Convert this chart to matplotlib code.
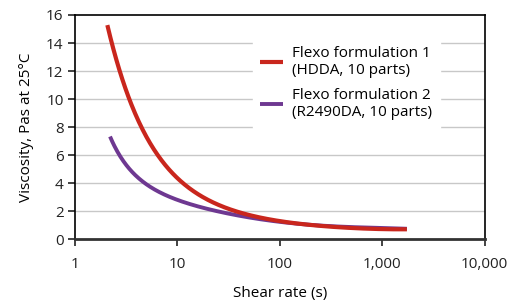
import numpy as np
import matplotlib
matplotlib.use("Agg")
import matplotlib.pyplot as plt

plt.rcParams["font.family"] = ["Open Sans", "DejaVu Sans"]

# Shear rate (s) and viscosity (Pas at 25 C)
shear_1 = [2.08, 2.33, 2.72, 3.31, 4.33, 5.42, 6.78, 8.5, 11.0, 16.6, 24.2, 35.2, 59.4,
           108, 228, 482, 1018, 1740]
visc_1  = [15.45, 14.0, 12.0, 10.0, 8.0, 6.9, 5.9, 5.0, 4.2, 3.2, 2.45, 1.97, 1.62,
           1.33, 0.98, 0.81, 0.74, 0.72]

shear_2 = [2.21, 2.76, 4.02, 5.42, 7.88, 11.4, 16.6, 24.2, 35.2, 51.1, 108, 228, 482,
           1018, 1740]
visc_2  = [7.4, 5.89, 4.46, 3.80, 3.10, 2.70, 2.33, 2.02, 1.76, 1.55, 1.22, 1.02, 0.88,
           0.81, 0.76]

label_1 = "Flexo formulation 1\n(HDDA, 10 parts)"
label_2 = "Flexo formulation 2\n(R2490DA, 10 parts)"

x_ticks = [1, 10, 100, 1000, 10000]
x_tick_labels = ["1", "10", "100", "1,000", "10,000"]
y_ticks = [0, 2, 4, 6, 8, 10, 12, 14, 16]

C_RED = "#c9261d"
C_PURPLE = "#6e3891"


def smooth(xs, ys, deg=5, n=400):
    """Least-squares smoothing of the read points in log-log space, for a clean line."""
    lx = np.log10(xs)
    ly = np.log10(ys)
    coef = np.polyfit(lx, ly, deg)
    g = np.linspace(lx[0], lx[-1], n)
    return 10 ** g, 10 ** np.polyval(coef, g)


fig = plt.figure(figsize=(5.19, 3.06), dpi=100)
ax = fig.add_axes([0.144, 0.2176, 0.79, 0.7334])

for y in y_ticks[1:-1]:
    ax.axhline(y, color="#c8c8c8", lw=1.0, zorder=1)

x1, y1 = smooth(shear_1, visc_1)
x2, y2 = smooth(shear_2, visc_2)
ax.plot(x2, y2, color=C_PURPLE, lw=2.8, solid_capstyle="butt", label=label_2, zorder=3)
ax.plot(x1, y1, color=C_RED, lw=3.0, solid_capstyle="butt", label=label_1, zorder=4)

ax.set_xscale("log")
ax.set_xlim(1, 10000)
ax.set_ylim(0, 16)
ax.set_xticks(x_ticks)
ax.set_xticklabels(x_tick_labels)
ax.xaxis.set_minor_locator(matplotlib.ticker.NullLocator())
ax.set_yticks(y_ticks)

ax.tick_params(axis="both", labelsize=11, colors="#222222", length=5, width=1.2)
ax.tick_params(axis="x", pad=8)
ax.tick_params(axis="y", pad=3)
for s in ["left", "top", "right"]:
    ax.spines[s].set_linewidth(1.2)
ax.spines["bottom"].set_linewidth(2)
ax.spines["bottom"].set_color("#333333")

ax.set_xlabel("Shear rate (s)", fontsize=11, labelpad=10)
ax.set_ylabel("Viscosity, Pas at 25°C", fontsize=11, labelpad=9)

handles, labels = ax.get_legend_handles_labels()
leg = ax.legend(handles[::-1], labels[::-1], loc="upper left",
                bbox_to_anchor=(0.415, 0.93), frameon=True, fontsize=11,
                handlelength=1.5, handletextpad=0.6, labelspacing=0.65,
                borderpad=0.5)
leg.get_frame().set_facecolor("white")
leg.get_frame().set_edgecolor("white")
leg.get_frame().set_alpha(1)
leg.get_frame().set_boxstyle("square", pad=0)

fig.savefig("out.png", dpi=100)
